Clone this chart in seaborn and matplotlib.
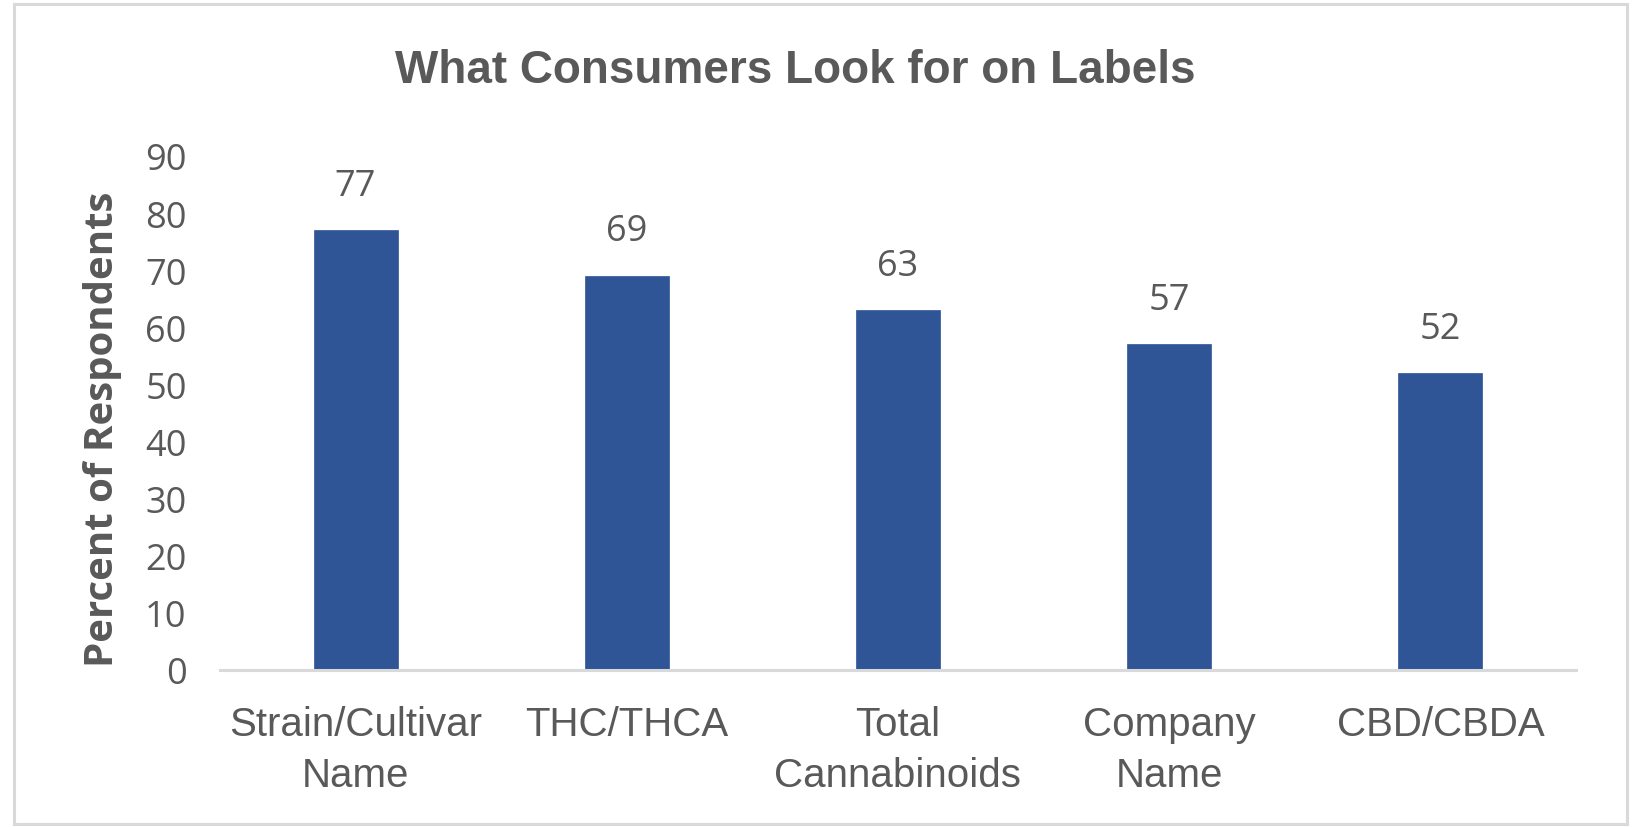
import matplotlib
matplotlib.use("Agg")
import matplotlib.pyplot as plt
from matplotlib.patches import Rectangle
import seaborn as sns
import pandas as pd

categories = ["Strain/Cultivar\nName", "THC/THCA", "Total\nCannabinoids", "Company\nName", "CBD/CBDA"]
percent = [77, 69, 63, 57, 52]
y_ticks = [0, 10, 20, 30, 40, 50, 60, 70, 80, 90]

sns.set_theme(style="white")
plt.rcParams["font.family"] = ["Liberation Sans", "DejaVu Sans"]

num_family = ["Open Sans", "DejaVu Sans"]

TEXT = "#595959"
BAR = "#2F5597"
GRID = "#D9D9D9"

W, H = 1640, 828
fig = plt.figure(figsize=(W / 100, H / 100), dpi=100)
ax = fig.add_axes([220 / W, 1 - 671 / H, (1576 - 220) / W, (671 - 157) / H])

df = pd.DataFrame({"category": categories, "percent": percent})
sns.barplot(data=df, x="category", y="percent", color=BAR, width=0.31,
            saturation=1, ax=ax, edgecolor=BAR, linewidth=0.5)

ax.set_ylim(0, 90)
ax.set_xlim(-0.5, len(categories) - 0.5)
ax.set_yticks(y_ticks)
ax.set_yticklabels([str(t) for t in y_ticks], family=num_family, fontsize=26, color=TEXT)
ax.set_xticks(range(len(categories)))
ax.set_xticklabels(categories, fontsize=29, color=TEXT, linespacing=1.45)
ax.tick_params(axis="both", length=0)
ax.tick_params(axis="y", pad=24)
ax.tick_params(axis="x", pad=25)

for s in ["top", "right", "left"]:
    ax.spines[s].set_visible(False)
ax.spines["bottom"].set_color(GRID)
ax.spines["bottom"].set_linewidth(2.2)

ax.set_xlabel("")
ax.set_ylabel("Percent of Respondents", fontsize=29, fontweight="bold",
              color=TEXT, family=num_family, labelpad=17)
ax.yaxis.label.set_y(0.47)

for i, v in enumerate(percent):
    ax.annotate(str(v), (i, v), xytext=(0, 32), textcoords="offset points",
                ha="center", va="center", fontsize=26, color=TEXT, family=num_family)

fig.text(795 / W, 1 - 71 / H, "What Consumers Look for on Labels", ha="center", va="center",
         fontsize=33, fontweight="bold", color=TEXT)

fig.patches.append(Rectangle((14 / W, 3 / H), (1627 - 14) / W, (823 - 3) / H,
                             transform=fig.transFigure, fill=False,
                             edgecolor=GRID, linewidth=2.2))

fig.savefig("out.png", dpi=100, facecolor="white")
